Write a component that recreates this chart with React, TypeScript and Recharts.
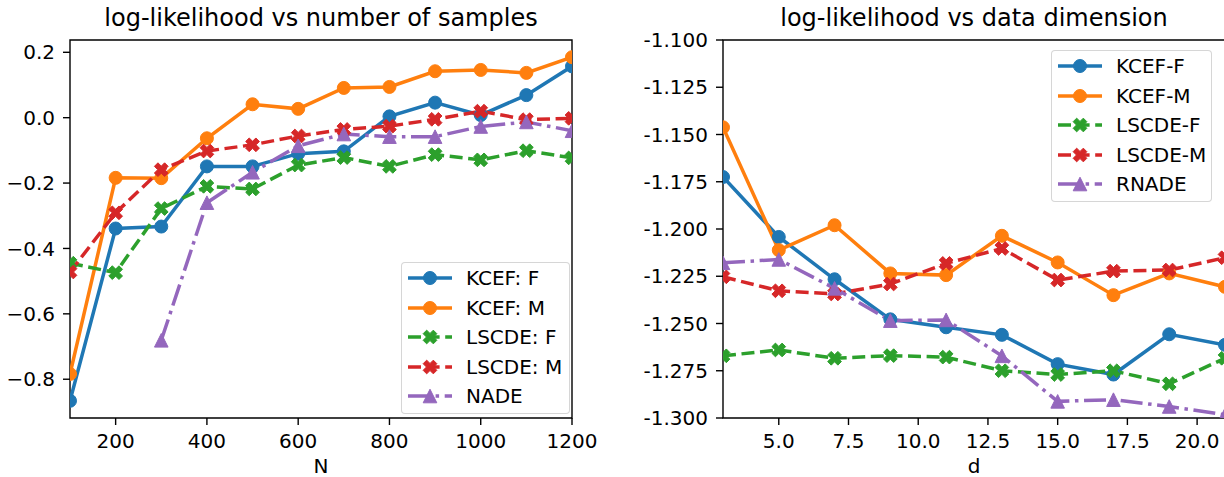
import React from "react";
import { LineChart, Line, XAxis, YAxis, Legend, ReferenceArea } from "recharts";

// left panel: log-likelihood vs number of samples N
const SAMPLE_SIZES = [100, 200, 300, 400, 500, 600, 700, 800, 900, 1000, 1100, 1200];
const KCEF_F_BY_N = [-0.866, -0.339, -0.333, -0.149, -0.149, -0.11, -0.103, 0.004, 0.046, 0.008, 0.069, 0.157];
const KCEF_M_BY_N = [-0.784, -0.184, -0.185, -0.063, 0.041, 0.027, 0.091, 0.094, 0.142, 0.146, 0.137, 0.185];
const LSCDE_F_BY_N = [-0.445, -0.474, -0.278, -0.21, -0.218, -0.145, -0.122, -0.149, -0.113, -0.129, -0.101, -0.123];
const LSCDE_M_BY_N = [-0.472, -0.291, -0.159, -0.102, -0.083, -0.056, -0.036, -0.026, -0.005, 0.02, -0.006, -0.002];
const NADE_BY_N = [null, null, -0.681, -0.26, -0.167, -0.086, -0.05, -0.058, -0.058, -0.027, -0.013, -0.04];
const N_TICKS = [200, 400, 600, 800, 1000, 1200];
const N_Y_TICKS = [-0.8, -0.6, -0.4, -0.2, 0.0, 0.2];

// right panel: log-likelihood vs data dimension d
const DIMS = [3, 5, 7, 9, 11, 13, 15, 17, 19, 21];
const KCEF_F_BY_D = [-1.1725, -1.2042, -1.2266, -1.2478, -1.252, -1.256, -1.2715, -1.277, -1.2557, -1.2613];
const KCEF_M_BY_D = [-1.1462, -1.2112, -1.198, -1.2235, -1.2244, -1.2036, -1.2177, -1.235, -1.2235, -1.2306];
const LSCDE_F_BY_D = [-1.2671, -1.264, -1.2684, -1.267, -1.2678, -1.275, -1.277, -1.275, -1.2819, -1.2684];
const LSCDE_M_BY_D = [-1.2253, -1.2327, -1.2344, -1.2291, -1.2182, -1.2103, -1.227, -1.2223, -1.2217, -1.2152];
const RNADE_BY_D = [-1.2179, -1.2161, -1.2314, -1.2485, -1.2481, -1.2671, -1.2912, -1.2903, -1.2939, -1.2983];
const D_TICKS = [5, 7.5, 10, 12.5, 15, 17.5, 20];
const D_Y_TICKS = [-1.3, -1.275, -1.25, -1.225, -1.2, -1.175, -1.15, -1.125, -1.1];

const FONT = "'DejaVu Sans', sans-serif";
const TICK_FONT = 20;
const LW = 3.5;

type Marker = "circle" | "x" | "triangle";
type Series = { key: string; color: string; dash?: string; marker: Marker };

const SERIES: Series[] = [
  { key: "kcefF", color: "#1f77b4", marker: "circle" },
  { key: "kcefM", color: "#ff7f0e", marker: "circle" },
  { key: "lscdeF", color: "#2ca02c", dash: "13 5.6", marker: "x" },
  { key: "lscdeM", color: "#d62728", dash: "13 5.6", marker: "x" },
  { key: "nade", color: "#9467bd", dash: "22 5.6 3.5 5.6", marker: "triangle" },
];

const LEFT_LABELS = ["KCEF: F", "KCEF: M", "LSCDE: F", "LSCDE: M", "NADE"];
const RIGHT_LABELS = ["KCEF-F", "KCEF-M", "LSCDE-F", "LSCDE-M", "RNADE"];

const nRows = SAMPLE_SIZES.map((n, i) => ({
  x: n,
  kcefF: KCEF_F_BY_N[i],
  kcefM: KCEF_M_BY_N[i],
  lscdeF: LSCDE_F_BY_N[i],
  lscdeM: LSCDE_M_BY_N[i],
  nade: NADE_BY_N[i],
}));

const dRows = DIMS.map((d, i) => ({
  x: d,
  kcefF: KCEF_F_BY_D[i],
  kcefM: KCEF_M_BY_D[i],
  lscdeF: LSCDE_F_BY_D[i],
  lscdeM: LSCDE_M_BY_D[i],
  nade: RNADE_BY_D[i],
}));

// filled "X" = a plus sign turned by 45 degrees
function xPoints(cx: number, cy: number, s = 7.2, w = 2.5) {
  const plus = [
    [-w, -s], [w, -s], [w, -w], [s, -w], [s, w], [w, w],
    [w, s], [-w, s], [-w, w], [-s, w], [-s, -w], [-w, -w],
  ];
  const c = Math.SQRT1_2;
  return plus.map(([px, py]) => `${cx + (px - py) * c},${cy + (px + py) * c}`).join(" ");
}

function MarkerShape({ marker, color, cx, cy }: { marker: Marker; color: string; cx: number; cy: number }) {
  if (marker === "circle") return <circle cx={cx} cy={cy} r={6.5} fill={color} stroke={color} strokeWidth={1} />;
  if (marker === "x") return <polygon points={xPoints(cx, cy)} fill={color} stroke={color} strokeWidth={1} />;
  const h = 6.8;
  return (
    <polygon points={`${cx},${cy - h} ${cx + h},${cy + h} ${cx - h},${cy + h}`} fill={color} stroke={color} strokeWidth={1} />
  );
}

function makeDot(s: Series) {
  return (props: any) => {
    const { cx, cy, index, value } = props;
    if (cx == null || cy == null || value == null || Number.isNaN(cy)) return <g key={`${s.key}-${index}`} />;
    return (
      <g key={`${s.key}-${index}`}>
        <MarkerShape marker={s.marker} color={s.color} cx={cx} cy={cy} />
      </g>
    );
  };
}

function LegendBox({ labels, width }: { labels: string[]; width: number }) {
  return (
    <div
      style={{
        width,
        height: 152,
        boxSizing: "border-box",
        border: "1.4px solid rgba(204,204,204,0.8)",
        borderRadius: 4,
        background: "rgba(255,255,255,0.8)",
        paddingTop: 0.5,
        fontFamily: FONT,
        fontSize: TICK_FONT,
        color: "#000",
      }}
    >
      {SERIES.map((s, i) => (
        <div key={s.key} style={{ display: "flex", alignItems: "center", height: 29.5 }}>
          <svg width={58} height={20} style={{ flex: "none" }}>
            <line x1={6} y1={10} x2={50} y2={10} stroke={s.color} strokeWidth={LW} strokeDasharray={s.dash} />
            <MarkerShape marker={s.marker} color={s.color} cx={28} cy={10} />
          </svg>
          <span style={{ marginLeft: 6, whiteSpace: "nowrap" }}>{labels[i]}</span>
        </div>
      ))}
    </div>
  );
}

const tickStyle = { fontSize: TICK_FONT, fill: "#000", fontFamily: FONT };
const tickLine = { stroke: "#000", strokeWidth: 1.4 };

function Panel(props: {
  rows: any[];
  xDomain: [number, number];
  yDomain: [number, number];
  xTicks: number[];
  yTicks: number[];
  xFmt: (v: number) => string;
  yFmt: (v: number) => string;
  xLabel: string;
  yAxisWidth: number;
  width: number;
  marginRight: number;
  labels: string[];
  legendLeft: number;
  legendTop: number;
  legendWidth: number;
}) {
  return (
    <LineChart
      width={props.width}
      height={477}
      data={props.rows}
      margin={{ top: 40, right: props.marginRight, bottom: 3, left: 0 }}
    >
      <XAxis
        dataKey="x"
        type="number"
        domain={props.xDomain}
        ticks={props.xTicks}
        tickFormatter={props.xFmt}
        allowDataOverflow
        axisLine={false}
        tickLine={tickLine}
        tickSize={7}
        tickMargin={9}
        tick={tickStyle}
        height={56}
        interval={0}
        label={{ value: props.xLabel, position: "insideBottom", offset: 1, style: { ...tickStyle, textAnchor: "middle" } }}
      />
      <YAxis
        type="number"
        domain={props.yDomain}
        ticks={props.yTicks}
        tickFormatter={props.yFmt}
        allowDataOverflow
        axisLine={false}
        tickLine={tickLine}
        tickSize={7}
        tickMargin={8}
        tick={tickStyle}
        width={props.yAxisWidth}
        interval={0}
      />
      {SERIES.map((s) => (
        <Line
          key={s.key}
          type="linear"
          dataKey={s.key}
          stroke={s.color}
          strokeWidth={LW}
          strokeDasharray={s.dash}
          dot={makeDot(s)}
          activeDot={false}
          connectNulls={false}
          isAnimationActive={false}
        />
      ))}
      <ReferenceArea
        x1={props.xDomain[0]}
        x2={props.xDomain[1]}
        y1={props.yDomain[0]}
        y2={props.yDomain[1]}
        fill="none"
        stroke="#000"
        strokeWidth={1.4}
        ifOverflow="visible"
      />
      <Legend
        layout="vertical"
        verticalAlign="middle"
        align="center"
        wrapperStyle={{ left: props.legendLeft, top: props.legendTop, width: props.legendWidth }}
        content={() => <LegendBox labels={props.labels} width={props.legendWidth} />}
      />
    </LineChart>
  );
}

const titleStyle: React.CSSProperties = {
  position: "absolute",
  top: 4,
  fontFamily: FONT,
  fontSize: 24,
  lineHeight: "28px",
  whiteSpace: "nowrap",
  transform: "translateX(-50%)",
  color: "#000",
};

export default function App() {
  return (
    <div
      style={{
        position: "absolute",
        left: 0,
        top: 0,
        width: 1224,
        height: 477,
        overflow: "hidden",
        background: "#fff",
        fontFamily: FONT,
      }}
    >
      <div style={{ ...titleStyle, left: 321 }}>log-likelihood vs number of samples</div>
      <div style={{ ...titleStyle, left: 974 }}>log-likelihood vs data dimension</div>
      <div style={{ position: "absolute", left: 0, top: 0 }}>
        <Panel
          rows={nRows}
          xDomain={[100, 1200]}
          yDomain={[-0.9186, 0.2376]}
          xTicks={N_TICKS}
          yTicks={N_Y_TICKS}
          xFmt={(v) => String(v)}
          yFmt={(v) => v.toFixed(1).replace("-", "\u2212")}
          xLabel="N"
          yAxisWidth={70}
          width={600}
          marginRight={28}
          labels={LEFT_LABELS}
          legendLeft={401}
          legendTop={262}
          legendWidth={169}
        />
      </div>
      <div style={{ position: "absolute", left: 620, top: 0 }}>
        <Panel
          rows={dRows}
          xDomain={[3, 21]}
          yDomain={[-1.3, -1.1]}
          xTicks={D_TICKS}
          yTicks={D_Y_TICKS}
          xFmt={(v) => v.toFixed(1)}
          yFmt={(v) => v.toFixed(3)}
          xLabel="d"
          yAxisWidth={103}
          width={620}
          marginRight={15}
          labels={RIGHT_LABELS}
          legendLeft={431}
          legendTop={50}
          legendWidth={161}
        />
      </div>
    </div>
  );
}
